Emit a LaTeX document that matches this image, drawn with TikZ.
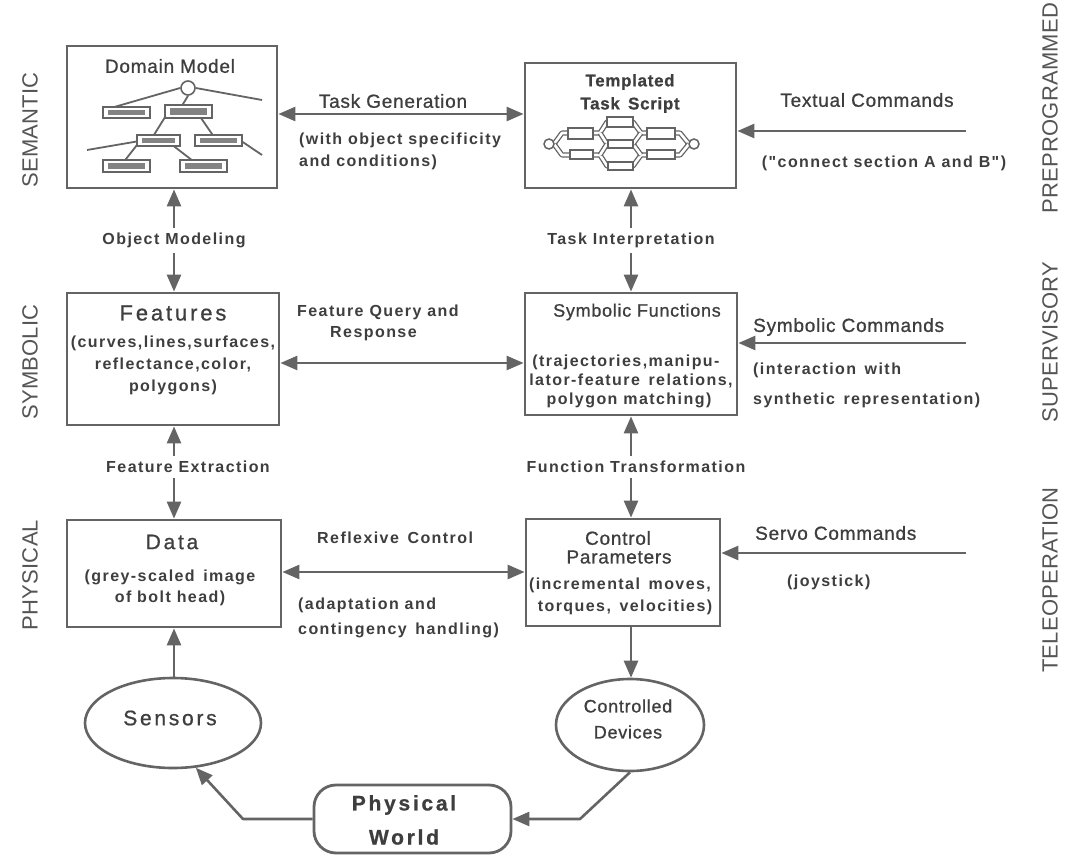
\documentclass[tikz,border=0pt]{standalone}
\usepackage{fontspec}
\setmainfont{Liberation Sans}
\newfontfamily\hvA{Liberation Sans}[LetterSpace=4,FakeBold=0.8]
\newfontfamily\hvB{Liberation Sans}[LetterSpace=9]
\newfontfamily\hvC{Liberation Sans}[LetterSpace=13,FakeBold=0.8]
\newfontfamily\hvS{Liberation Sans}[LetterSpace=1]
\usetikzlibrary{arrows.meta,shapes.geometric,calc}
\definecolor{ink}{RGB}{62,62,62}
\definecolor{lc}{RGB}{100,100,100}
\definecolor{sidec}{RGB}{85,85,85}
\begin{document}
\begin{tikzpicture}[x=1pt,y=-1pt,
  >={Triangle[length=17pt,width=14pt]},
  ln/.style={draw=lc,line width=2.6pt},
  box/.style={rectangle,draw=lc,line width=2.8pt,inner sep=0pt},
  ell/.style={ellipse,draw=lc,line width=2.6pt,inner sep=0pt},
  txt/.style={inner sep=0pt,text=ink},
  mid/.style={txt,font=\hvA\fontsize{19}{21}\selectfont},
  sml/.style={txt,font=\hvB\bfseries\fontsize{16}{18}\selectfont},
  big/.style={txt,font=\hvC\fontsize{21}{23}\selectfont},
  side/.style={inner sep=0pt,text=sidec,font=\hvS\fontsize{22}{24}\selectfont,rotate=90},
  mini/.style={rectangle,draw=lc,line width=1.6pt,fill=white,inner sep=0pt,
    path picture={\fill[lc!80] ([xshift=5pt,yshift=-3pt]path picture bounding box.north west) rectangle ([xshift=-5pt,yshift=3pt]path picture bounding box.south east);}},
  pbox/.style={rectangle,draw=lc,line width=1.5pt,fill=white,inner sep=0pt},
  pipe/.style={draw=lc,line width=1.3pt,double=white,double distance=2.6pt,line join=round},
  twig/.style={draw=lc,line width=1.8pt},
]
\useasboundingbox (0,0) rectangle (1082,856);
\fill[white] (0,0) rectangle (1082,856);

% side labels
\node[side] (lsem) at (30,130) {SEMANTIC};
\node[side] (lsym) at (30,362) {SYMBOLIC};
\node[side] (lphy) at (30,575) {PHYSICAL};
\node[side] (lpre) at (1050,108) {PREPROGRAMMED};
\node[side] (lsup) at (1050,342) {SUPERVISORY};
\node[side] (ltel) at (1050,580) {TELEOPERATION};

% main boxes
\node[box,minimum width=210pt,minimum height=142pt] (dm) at (172,117) {};
\node[box,minimum width=211pt,minimum height=125pt] (tts) at (630.5,125.5) {};
\node[box,minimum width=212pt,minimum height=132pt] (feat) at (173,359) {};
\node[box,minimum width=212pt,minimum height=122pt] (sf) at (631,354) {};
\node[box,minimum width=214pt,minimum height=107pt] (data) at (174,573.5) {};
\node[box,minimum width=194pt,minimum height=107pt] (cp) at (623,572.5) {};
\node[ell,minimum width=176pt,minimum height=90pt] (sens) at (173,723) {};
\node[ell,minimum width=148pt,minimum height=92pt] (cd) at (630,725) {};
\node[box,rounded corners=22pt,minimum width=197pt,minimum height=68pt] (pw) at (412.5,819) {};

% domain model content
\node[mid] (dmt) at (170,66) {Domain Model};
\node[circle,draw=lc,line width=1.6pt,minimum size=14pt,inner sep=0pt] (c0) at (188,88) {};
\coordinate (tr1) at (262,100);
\coordinate (tr2) at (87,150);
\coordinate (tr3) at (262,155);
\coordinate (ml0) at (126.5,112.5);
\coordinate (as0) at (188.5,111.5);
\coordinate (sa0) at (158.5,140.5);
\coordinate (sb0) at (218.5,140.5);
\coordinate (b10) at (126.5,166);
\coordinate (b20) at (203.5,166);
\draw[twig] (c0.east) -- (tr1);
\draw[twig] (c0.west) -- ([xshift=-14pt,yshift=5pt]ml0);
\draw[twig] (c0.south) -- ([xshift=-10pt]as0);
\draw[twig] ([xshift=-20pt]as0) -- ([xshift=-8pt]sa0);
\draw[twig] ([xshift=8pt]as0) -- ([xshift=-2pt]sb0);
\draw[twig] ([xshift=-16pt]sa0) -- (tr2);
\draw[twig] ([xshift=22pt]sb0) -- (tr3);
\draw[twig] ([xshift=-18pt]sa0) -- ([xshift=-6pt]b10);
\draw[twig] ([xshift=8pt]sa0) -- ([xshift=-4pt]b20);
\node[mini,minimum width=47pt,minimum height=11pt] (ml) at (ml0) {};
\node[mini,minimum width=47pt,minimum height=13pt] (as) at (as0) {};
\node[mini,minimum width=43pt,minimum height=11pt] (sa) at (sa0) {};
\node[mini,minimum width=47pt,minimum height=11pt] (sb) at (sb0) {};
\node[mini,minimum width=47pt,minimum height=12pt] (b1) at (b10) {};
\node[mini,minimum width=47pt,minimum height=12pt] (b2) at (b20) {};

% templated task script content
\node[mid,font=\hvA\bfseries\fontsize{17}{19}\selectfont] (tt1) at (630,82) {Templated};
\node[mid,font=\hvA\bfseries\fontsize{17}{19}\selectfont] (tt2) at (630,105) {Task\, Script};
\coordinate (nL) at (554,144);
\coordinate (nR) at (689,144);
\draw[pipe] (nL) -- (562,133) -- (600,133) -- (607,122) -- (633,122) -- (641,133) -- (680,133) -- (nR);
\draw[pipe] (nL) -- (562,155) -- (600,155) -- (607,166) -- (633,166) -- (641,155) -- (680,155) -- (nR);
\draw[pipe] (600,133) -- (607,144) -- (633,144) -- (641,155);
\draw[pipe] (600,155) -- (607,144);
\draw[pipe] (633,144) -- (641,133);
\node[circle,draw=lc,line width=1.5pt,fill=white,minimum size=10pt,inner sep=0pt] (pcl) at (549,144) {};
\node[circle,draw=lc,line width=1.5pt,fill=white,minimum size=10pt,inner sep=0pt] (pcr) at (694,144) {};
\node[pbox,minimum width=26pt,minimum height=10pt] (p1) at (620,122) {};
\node[pbox,minimum width=25pt,minimum height=11pt] (p2) at (580.5,133.5) {};
\node[pbox,minimum width=23pt,minimum height=9pt] (p3) at (581.5,154.5) {};
\node[pbox,minimum width=25pt,minimum height=8pt] (p4) at (620.5,144) {};
\node[pbox,minimum width=25pt,minimum height=8pt] (p5) at (620.5,166) {};
\node[pbox,minimum width=28pt,minimum height=11pt] (p6) at (661,133.5) {};
\node[pbox,minimum width=28pt,minimum height=9pt] (p7) at (661,154.5) {};

% features
\node[big,font=\hvC\fontsize{22}{24}\selectfont] (ft) at (173,313) {Features};
\node[sml] (f1) at (173,343) {(curves,lines,surfaces,};
\node[sml] (f2) at (173,365) {reflectance,color,};
\node[sml] (f3) at (173,387) {polygons)};

% symbolic functions
\node[mid,font=\hvA\fontsize{18}{20}\selectfont] (sft) at (637,312) {Symbolic Functions};
\node[sml] (s1) at (626,362) {(trajectories,manipu-};
\node[sml] (s2) at (631,381) {lator-feature\, relations,};
\node[sml] (s3) at (629,400) {polygon matching)};

% data
\node[big] (dt) at (172,542) {Data};
\node[sml] (d1) at (170,577) {(grey-scaled\, image};
\node[sml] (d2) at (170,598) {of bolt head)};

% control parameters
\node[mid] (cp1) at (618,538) {Control};
\node[mid] (cp2) at (619,557) {Parameters};
\node[sml] (cp3) at (620,585) {(incremental\, moves,};
\node[sml] (cp4) at (625,607) {torques,\, velocities)};

% ellipses / world text
\node[big] (st) at (170,718) {Sensors};
\node[mid,font=\hvA\fontsize{18}{20}\selectfont] (cd1) at (628,706) {Controlled};
\node[mid,font=\hvA\fontsize{18}{20}\selectfont] (cd2) at (628,732) {Devices};
\node[big,font=\hvC\bfseries\fontsize{21}{23}\selectfont] (pw1) at (404,805) {Physical};
\node[big,font=\hvC\bfseries\fontsize{21}{23}\selectfont] (pw2) at (404,837) {World};

% column coordinates
\coordinate (colL) at (174,0);
\coordinate (colR) at (631,0);

% vertical connectors
\draw[ln,<->] (dm.south -| colL) -- node[sml,fill=white,inner ysep=5pt,inner xsep=2pt] (om) {Object Modeling} (feat.north -| colL);
\draw[ln,<->] (tts.south -| colR) -- node[sml,fill=white,inner ysep=5pt,inner xsep=2pt] (ti) {Task Interpretation} (sf.north -| colR);
\draw[ln,<->] (feat.south -| colL) -- (data.north -| colL);
\node[sml,fill=white,inner ysep=5pt,inner xsep=2pt] (fe) at (188,467) {Feature Extraction};
\draw[ln,<->] (sf.south -| colR) -- (cp.north -| colR);
\node[sml,fill=white,inner ysep=5pt,inner xsep=2pt] (ftr) at (636,467) {Function Transformation};
\draw[ln,->] (sens.north -| colL) -- (data.south -| colL);
\draw[ln,->] (cp.south -| colR) -- (cd.north -| colR);

% bottom loop
\draw[ln,->,line join=round] (pw.west) -- (243,819) -- (sens.-63);
\draw[ln,->,line join=round] (cd.south) -- (580,819) -- (pw.east);

% horizontal connectors
\draw[ln,<->] ([yshift=3pt]dm.east) -- ([yshift=3pt]dm.east -| tts.west);
\node[mid] (tg) at (393,101) {Task Generation};
\node[sml,anchor=west] (tg1) at (299,140) {(with object specificity};
\node[sml,anchor=west] (tg2) at (299,162) {and conditions)};

\coordinate (tcs) at (966,131);
\draw[ln,->] (tcs) -- (tcs -| tts.east);
\node[mid] (tct) at (867,100) {Textual Commands};
\node[sml] (tc1) at (884,163) {("connect section A and B")};

\draw[ln,<->] ([yshift=-4pt]feat.east) -- ([yshift=-4pt]feat.east -| sf.west);
\node[sml,anchor=west] (fq1) at (297,312) {Feature Query and};
\node[sml,anchor=west] (fq2) at (330,334) {Response};

\coordinate (scs) at (966,343);
\draw[ln,->] (scs) -- (scs -| sf.east);
\node[mid,anchor=west] (sct) at (753,327) {Symbolic Commands};
\node[sml,anchor=west] (sc1) at (753,370) {(interaction\, with};
\node[sml,anchor=west] (sc2) at (753,400) {synthetic\, representation)};

\draw[ln,<->] ([yshift=1.5pt]data.east) -- ([yshift=1.5pt]data.east -| cp.west);
\node[sml,anchor=west] (rc) at (317,538) {Reflexive\, Control};
\node[sml,anchor=west] (rc1) at (298,605) {(adaptation and};
\node[sml,anchor=west] (rc2) at (298,630) {contingency\, handling)};

\coordinate (svs) at (966,553);
\draw[ln,->] (svs) -- (svs -| cp.east);
\node[mid,anchor=west] (svt) at (755,533) {Servo Commands};
\node[sml,anchor=west] (sv1) at (787,582) {(joystick)};
\end{tikzpicture}
\end{document}
